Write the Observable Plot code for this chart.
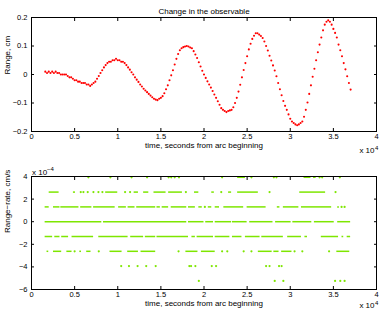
<!DOCTYPE html>
<html><head><meta charset="utf-8">
<script src="https://cdn.jsdelivr.net/npm/d3@7"></script>
<script src="https://cdn.jsdelivr.net/npm/@observablehq/plot@0.6"></script>
<style>
html,body{margin:0;padding:0;background:#fff}
body{width:382px;height:312px;overflow:hidden}
#chart svg{display:block}
</style></head>
<body><div id="chart"></div>
<script>
// ---- text ----
const titleText = "Change in the observable";
const xLabel = "time, seconds from arc beginning";
const topYLabel = "Range, cm";
const bottomYLabel = "Range\u2212rate, cm/s";
const xExpBase = "x 10", xExp = "4";
const yExpBase = "x 10", yExp = "\u22124";

// ---- ticks ----
const xTicks = [0, 5000, 10000, 15000, 20000, 25000, 30000, 35000, 40000];
const topYTicks = [-0.2, -0.1, 0, 0.1, 0.2];
const bottomYTicks = [-6, -4, -2, 0, 2, 4];

// ---- top panel: range change (cm), one sample every 200 s from 1600 s ----
const rangeStart = 1600, rangeStep = 200;
const rangeValues = [
  0.01,0.005,0.01,0.005,0.01,0.005,0.01,0.005,0.005,0,
  0,0,0,-0.005,-0.01,-0.01,-0.015,-0.02,-0.02,-0.025,
  -0.025,-0.03,-0.03,-0.03,-0.035,-0.035,-0.04,-0.035,-0.03,-0.025,
  -0.015,-0.005,0.005,0.015,0.025,0.033,0.04,0.045,0.045,0.05,
  0.05,0.055,0.05,0.05,0.045,0.045,0.04,0.033,0.025,0.017,
  0.008,0,-0.01,-0.018,-0.026,-0.035,-0.042,-0.05,-0.056,-0.062,
  -0.068,-0.074,-0.08,-0.085,-0.088,-0.09,-0.085,-0.082,-0.076,-0.066,
  -0.052,-0.038,-0.02,-0.003,0.015,0.035,0.055,0.072,0.085,0.092,
  0.096,0.098,0.1,0.098,0.095,0.092,0.082,0.07,0.058,0.043,
  0.028,0.013,0,-0.012,-0.024,-0.035,-0.046,-0.058,-0.07,-0.082,
  -0.094,-0.106,-0.118,-0.124,-0.128,-0.132,-0.128,-0.126,-0.124,-0.115,
  -0.1,-0.082,-0.06,-0.036,-0.01,0.016,0.04,0.064,0.088,0.108,
  0.125,0.136,0.145,0.145,0.14,0.135,0.128,0.116,0.1,0.084,
  0.066,0.049,0.032,0.014,-0.006,-0.03,-0.052,-0.073,-0.093,-0.11,
  -0.124,-0.14,-0.155,-0.165,-0.17,-0.175,-0.178,-0.175,-0.17,-0.165,
  -0.148,-0.124,-0.098,-0.068,-0.038,-0.008,0.02,0.05,0.078,0.105,
  0.13,0.155,0.175,0.185,0.19,0.185,0.175,0.16,0.146,0.13,
  0.105,0.085,0.064,0.04,0.018,-0.006,-0.03,-0.053
];

// ---- bottom panel: range-rate levels (x 1e-4 cm/s) and runs of samples (time x 1e4 s) ----
const rateLevels = [3.93, 2.62, 1.31, 0, -1.31, -2.62, -3.93, -5.24];
const runsPlus3 = [[0.66],[0.915],[1.16],[1.34],[1.59],[1.62],[1.66],[1.71],[2.21],[2.39,2.48],[2.55],[2.81],[2.84],[3.16,3.24],[3.27,3.30],[3.34],[3.37],[3.575]];
const runsPlus2 = [[0.205,0.32],[0.486,0.51],[0.571],[0.602],[0.652],[0.718],[0.776],[0.822],[0.86,1.0],[1.085],[1.143],[1.19,1.24],[1.30,1.36],[1.42,1.56],[1.59,1.75],[1.79],[1.89,1.94],[2.09,2.12],[2.2],[2.285,2.32],[2.39,2.63],[2.76],[3.11,3.41],[3.525]];
const runsPlus1 = [[0.158,0.205],[0.255,0.33],[0.34,0.55],[0.57,0.70],[0.72,0.97],[1.01,1.10],[1.12,1.20],[1.22,1.44],[1.455,1.494],[1.515,1.59],[1.62,1.80],[1.82,1.90],[1.94,1.98],[2.01],[2.05,2.09],[2.13,2.18],[2.23,2.46],[2.50,2.72],[2.85,2.88],[2.92,3.10],[3.13,3.48],[3.55,3.57],[3.595],[3.63]];
const runsZero = [[0.158,0.815],[0.835,1.80],[1.82,2.00],[2.02,2.11],[2.13,2.32],[2.33,2.50],[2.53,2.80],[2.83,3.01],[3.03,3.25],[3.28,3.51],[3.55,3.70]];
const runsMinus1 = [[0.158,0.245],[0.27,0.33],[0.35,0.43],[0.47,0.72],[0.78,1.12],[1.15,1.30],[1.32,1.44],[1.455,1.82],[1.86,1.90],[1.92,2.11],[2.13,2.30],[2.33,2.44],[2.48,2.65],[2.67,2.92],[2.97,3.13],[3.17,3.20],[3.36,3.56],[3.60,3.62],[3.66,3.70]];
const runsMinus2 = [[0.18,0.2],[0.255,0.35],[0.41,0.47],[0.5],[0.56,0.58],[0.64,0.69],[0.78],[0.91,1.05],[1.115,1.24],[1.27,1.44],[1.705],[1.79,1.93],[1.97,2.13],[2.21],[2.27],[2.46],[2.55],[2.63,2.79],[2.81,2.87],[2.90,3.02],[3.05],[3.14],[3.45],[3.54,3.69]];
const runsMinus3 = [[1.04],[1.13],[1.23],[1.33],[1.44],[1.83],[1.85],[1.90],[2.09],[2.14],[2.72],[2.76],[2.87],[2.90]];
const runsMinus4 = [[1.94],[2.82],[2.92],[3.52],[3.58],[3.63]];

// ---- colours ----
const rangeColor = "#ff0000";
const rateColor = "#7ee600";

// ---- build tables ----
const rangeTable = rangeValues.map((v, i) => ({t: rangeStart + i * rangeStep, v}));
const allRuns = [runsPlus3, runsPlus2, runsPlus1, runsZero, runsMinus1, runsMinus2, runsMinus3, runsMinus4];
const rateRows = allRuns.flatMap((runs, k) => runs.map(r => ({y: rateLevels[k], x1: r[0] * 1e4, x2: (r.length > 1 ? r[1] : r[0]) * 1e4})));
const rateSegments = rateRows.filter(d => d.x2 > d.x1);
const rateSingles = rateRows.filter(d => d.x2 === d.x1);

const font = "'Liberation Sans', Arial, Helvetica, sans-serif";
const fmtX = d => String(d / 1e4);
const blank = () => "";

function frameAxes(yTicks, yFmt) {
  return [
    Plot.axisX({anchor: "bottom", ticks: xTicks, tickSize: -3, tickPadding: 5.5, tickFormat: fmtX, label: null, fontSize: 7.5}),
    Plot.axisX({anchor: "top", ticks: xTicks, tickSize: -3, tickFormat: blank, label: null}),
    Plot.axisY({anchor: "left", ticks: yTicks, tickSize: -3, tickPadding: 7, tickFormat: yFmt, label: null, fontSize: 7.5}),
    Plot.axisY({anchor: "right", ticks: yTicks, tickSize: -3, tickFormat: blank, label: null}),
    Plot.frame({stroke: "#000", strokeWidth: 1})
  ];
}

const topChart = Plot.plot({
  width: 382, height: 160,
  marginTop: 17, marginBottom: 29, marginLeft: 31, marginRight: 6,
  style: {fontFamily: font, fontSize: "8px", background: "#fff", color: "#000", overflow: "visible"},
  x: {domain: [0, 40000]},
  y: {domain: [-0.2, 0.2]},
  marks: [
    Plot.dot(rangeTable, {x: "t", y: "v", r: 1.05, fill: rangeColor, stroke: "none"}),
    ...frameAxes(topYTicks, d => d === 0 ? "0" : d3.format("")(d).replace("-", "\u2212")),
    Plot.text([titleText], {text: d => d, frameAnchor: "top", dy: -9, fontSize: 8}),
    Plot.text([xLabel], {text: d => d, frameAnchor: "bottom", dy: 16.5, fontSize: 8}),
    Plot.text([topYLabel], {text: d => d, frameAnchor: "left", dx: -24, rotate: -90, fontSize: 8}),
    Plot.text([xExpBase], {text: d => d, frameAnchor: "bottom-right", dx: -2, dy: 21.5, textAnchor: "end", fontSize: 8}),
    Plot.text([xExp], {text: d => d, frameAnchor: "bottom-right", dx: -1.5, dy: 18, textAnchor: "start", fontSize: 6})
  ]
});

const bottomChart = Plot.plot({
  width: 382, height: 152,
  marginTop: 16, marginBottom: 23, marginLeft: 31, marginRight: 6,
  style: {fontFamily: font, fontSize: "8px", background: "#fff", color: "#000", overflow: "visible"},
  x: {domain: [0, 40000]},
  y: {domain: [-6, 4]},
  marks: [
    Plot.ruleY(rateSegments, {y: "y", x1: "x1", x2: "x2", stroke: rateColor, strokeWidth: 1.5}),
    Plot.dot(rateSingles, {x: "x1", y: "y", r: 1.1, fill: rateColor, stroke: "none"}),
    ...frameAxes(bottomYTicks, d => String(d).replace("-", "\u2212")),
    Plot.text([xLabel], {text: d => d, frameAnchor: "bottom", dy: 16.5, fontSize: 8}),
    Plot.text([bottomYLabel], {text: d => d, frameAnchor: "left", dx: -24, rotate: -90, fontSize: 8}),
    Plot.text([xExpBase], {text: d => d, frameAnchor: "bottom-right", dx: -2, dy: 18.5, textAnchor: "end", fontSize: 8}),
    Plot.text([xExp], {text: d => d, frameAnchor: "bottom-right", dx: -1.5, dy: 15.5, textAnchor: "start", fontSize: 6}),
    Plot.text([yExpBase], {text: d => d, frameAnchor: "top-left", dx: 0.5, dy: -7, textAnchor: "start", fontSize: 8}),
    Plot.text([yExp], {text: d => d, frameAnchor: "top-left", dx: 15.5, dy: -10, textAnchor: "start", fontSize: 6})
  ]
});

const host = document.getElementById("chart");
host.appendChild(topChart);
host.appendChild(bottomChart);
</script>
</body></html>
